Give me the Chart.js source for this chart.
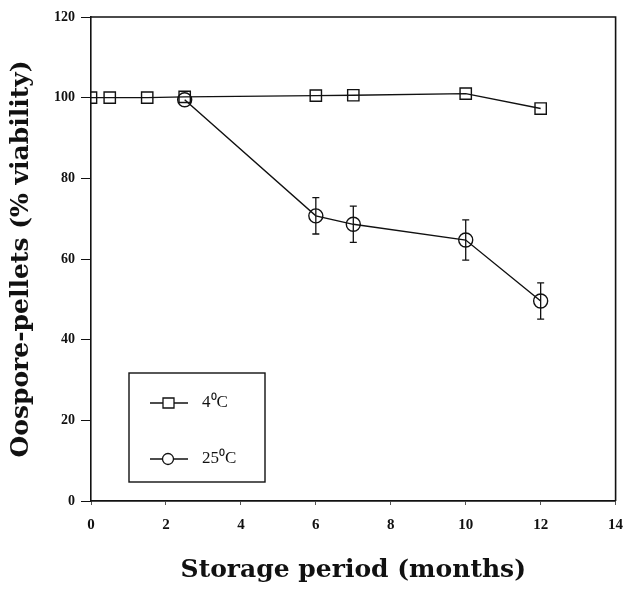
<!DOCTYPE html>
<html>
<head>
<meta charset="utf-8">
<script src="https://cdn.jsdelivr.net/npm/chart.js@4.4.1/dist/chart.umd.min.js"></script>
<style>
  html, body { margin: 0; padding: 0; background: #fff; }
  #wrap { width: 625px; height: 589px; }
</style>
</head>
<body>
<div id="wrap"><canvas id="c" width="625" height="589"></canvas></div>
<script>
// storage period (months) and % viability
const monthsCold = [0, 0.5, 1.5, 2.5, 6, 7, 10, 12];
const viabilityCold = [100, 100, 100, 100.2, 100.5, 100.6, 101, 97.3];

const monthsWarm = [2.5, 6, 7, 10, 12];
const viabilityWarm = [99.5, 70.7, 68.6, 64.7, 49.6];
const errorWarm = [0, 4.5, 4.5, 5, 4.5];

const legendLabels = ['4\u2070C', '25\u2070C'];

const serif = "'DejaVu Serif', 'Liberation Serif', serif";
const tickFont = "'Liberation Serif', serif";

function toPoints(xs, ys) {
    return xs.map((x, i) => ({ x: x, y: ys[i] }));
}

// error bars for the 25 C series
const errorBars = {
    id: 'errorBars',
    afterDatasetsDraw(chart) {
        const ctx = chart.ctx;
        const xs = chart.scales.x, ys = chart.scales.y;
        ctx.save();
        ctx.strokeStyle = '#111';
        ctx.lineWidth = 1.3;
        monthsWarm.forEach((m, i) => {
            const e = errorWarm[i];
            if (!e) return;
            const px = xs.getPixelForValue(m);
            const top = ys.getPixelForValue(viabilityWarm[i] + e);
            const bot = ys.getPixelForValue(viabilityWarm[i] - e);
            ctx.beginPath();
            ctx.moveTo(px, top); ctx.lineTo(px, bot);
            ctx.moveTo(px - 3.5, top); ctx.lineTo(px + 3.5, top);
            ctx.moveTo(px - 3.5, bot); ctx.lineTo(px + 3.5, bot);
            ctx.stroke();
        });
        ctx.restore();
    }
};

// closed frame + boxed legend inside the plot
const frameAndLegend = {
    id: 'frameAndLegend',
    afterDraw(chart) {
        const ctx = chart.ctx;
        const a = chart.chartArea;
        ctx.save();
        ctx.strokeStyle = '#111';
        ctx.lineWidth = 1.6;
        ctx.beginPath();
        ctx.moveTo(a.left, a.top); ctx.lineTo(a.right, a.top); ctx.lineTo(a.right, a.bottom);
        ctx.stroke();

        // legend box
        const bx = 129, by = 373, bw = 136, bh = 109;
        ctx.lineWidth = 1.4;
        ctx.fillStyle = '#fff';
        ctx.fillRect(bx, by, bw, bh);
        ctx.strokeRect(bx, by, bw, bh);

        const rows = [403, 459];
        ctx.lineWidth = 1.3;
        ctx.font = "17px 'Liberation Serif', serif";
        ctx.textBaseline = 'middle';
        rows.forEach((yy, i) => {
            ctx.beginPath();
            ctx.moveTo(150, yy); ctx.lineTo(188, yy);
            ctx.stroke();
            ctx.beginPath();
            if (i === 0) {
                ctx.rect(163, yy - 5, 11, 10);
            } else {
                ctx.arc(168, yy, 5.5, 0, Math.PI * 2);
            }
            ctx.fill();
            ctx.stroke();
            ctx.fillStyle = '#111';
            ctx.fillText(legendLabels[i], 202, yy);
            ctx.fillStyle = '#fff';
        });
        ctx.restore();
    }
};

new Chart(document.getElementById('c').getContext('2d'), {
    type: 'line',
    data: {
        datasets: [
            {
                label: legendLabels[1],
                data: toPoints(monthsWarm, viabilityWarm),
                borderColor: '#111',
                borderWidth: 1.4,
                pointStyle: 'circle',
                pointRadius: 7,
                pointBackgroundColor: 'rgba(255,255,255,0)',
                pointBorderColor: '#111',
                pointBorderWidth: 1.4,
                tension: 0
            },
            {
                label: legendLabels[0],
                data: toPoints(monthsCold, viabilityCold),
                borderColor: '#111',
                borderWidth: 1.4,
                pointStyle: 'rect',
                pointRadius: 8,
                pointBackgroundColor: 'rgba(255,255,255,0)',
                pointBorderColor: '#111',
                pointBorderWidth: 1.4,
                tension: 0
            }
        ]
    },
    options: {
        responsive: false,
        animation: false,
        layout: { padding: { top: 17, right: 5, left: 0, bottom: 0 } },
        plugins: {
            legend: { display: false },
            tooltip: { enabled: false }
        },
        scales: {
            x: {
                type: 'linear',
                min: 0,
                max: 14,
                afterFit: s => { s.height = 88; s.paddingRight = 0; s.paddingLeft = 0; },
                border: { color: '#111', width: 1.8 },
                grid: { drawOnChartArea: false, drawTicks: true, tickLength: 4, color: '#555' },
                ticks: {
                    stepSize: 2,
                    color: '#111',
                    padding: 11,
                    font: { family: tickFont, size: 15, weight: 'bold' }
                },
                title: {
                    display: true,
                    text: 'Storage period (months)',
                    color: '#111',
                    padding: { top: 14 },
                    font: { family: serif, size: 25, weight: 'bold' }
                }
            },
            y: {
                min: 0,
                max: 120,
                afterFit: s => { s.width = 91; s.paddingTop = 0; s.paddingBottom = 0; },
                border: { color: '#111', width: 1.6 },
                grid: { drawOnChartArea: false, drawTicks: true, tickLength: 10, color: '#111' },
                ticks: {
                    stepSize: 20,
                    color: '#111',
                    padding: 6,
                    font: { family: tickFont, size: 14, weight: 'bold' }
                },
                title: {
                    display: true,
                    text: 'Oospore-pellets (% viability)',
                    color: '#111',
                    padding: { top: 6, bottom: 0 },
                    font: { family: serif, size: 25, weight: 'bold' }
                }
            }
        }
    },
    plugins: [errorBars, frameAndLegend]
});
</script>
</body>
</html>
